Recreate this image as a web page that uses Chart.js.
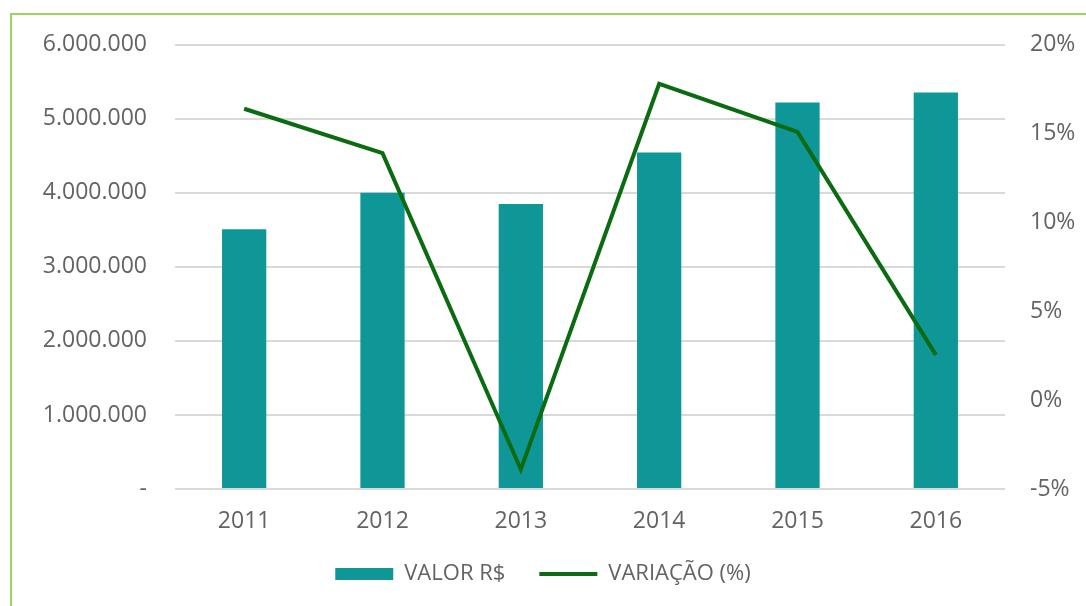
<!DOCTYPE html>
<html>
<head>
<meta charset="utf-8">
<script src="https://cdn.jsdelivr.net/npm/chart.js@4"></script>
<style>
    html, body { margin: 0; padding: 0; background: #fff; overflow: hidden; }
    #frame {
        position: absolute; left: 10px; top: 13px; width: 1100px; height: 620px;
        border-top: 2px solid #9ad45c; border-left: 2px solid #9ad45c;
    }
    #wrap { position: absolute; left: 0; top: 3px; width: 1086px; height: 603px; }
</style>
</head>
<body>
<div id="frame"></div>
<div id="wrap"><canvas id="chart"></canvas></div>
<script>
// Chart data
const years = ['2011', '2012', '2013', '2014', '2015', '2016'];
const valorValues = [3510000, 4000000, 3850000, 4545000, 5220000, 5355000];
const variacaoValues = [16.4, 13.9, -3.9, 17.8, 15.1, 2.55];

const barColor = '#0f9797';
const lineColor = '#0b6b10';
const textColor = '#636363';

function formatValor(value) {
    if (value === 0) return '-';
    return value.toLocaleString('de-DE');
}

const ctx = document.getElementById('chart').getContext('2d');

new Chart(ctx, {
    type: 'bar',
    data: {
        labels: years,
        datasets: [
            {
                label: 'VALOR R$',
                data: valorValues,
                backgroundColor: barColor,
                yAxisID: 'y',
                categoryPercentage: 1.0,
                barPercentage: 0.32,
                order: 2
            },
            {
                type: 'line',
                label: 'VARIAÇÃO (%)',
                data: variacaoValues,
                borderColor: lineColor,
                backgroundColor: lineColor,
                borderWidth: 4,
                pointRadius: 0,
                tension: 0,
                yAxisID: 'y1',
                order: 1
            }
        ]
    },
    options: {
        responsive: true,
        maintainAspectRatio: false,
        animation: false,
        layout: {
            padding: { left: 0, right: 0, top: 36, bottom: 11 }
        },
        scales: {
            x: {
                grid: { display: false },
                border: { display: false },
                ticks: {
                    color: textColor,
                    font: { family: 'Open Sans', size: 23 },
                    padding: 11
                },
                afterFit: function(scale) { scale.height = 40; }
            },
            y: {
                position: 'left',
                min: 0,
                max: 6000000,
                grid: { color: '#d9d9d9', lineWidth: 2, drawTicks: false },
                border: { display: false },
                ticks: {
                    stepSize: 1000000,
                    color: textColor,
                    font: { family: 'Open Sans', size: 23 },
                    padding: 28,
                    callback: function(value) { return formatValor(value); }
                },
                afterFit: function(scale) { scale.width = 175; }
            },
            y1: {
                position: 'right',
                min: -5,
                max: 20,
                grid: { display: false, drawTicks: false },
                border: { display: false },
                ticks: {
                    stepSize: 5,
                    color: textColor,
                    font: { family: 'Open Sans', size: 23 },
                    padding: 25,
                    callback: function(value) { return value + '%'; }
                },
                afterFit: function(scale) { scale.width = 81; }
            }
        },
        plugins: {
            legend: {
                position: 'bottom',
                labels: {
                    color: textColor,
                    font: { family: 'Open Sans', size: 22 },
                    usePointStyle: true,
                    pointStyleWidth: 58,
                    boxHeight: 12,
                    padding: 34,
                    sort: function(a, b) { return a.datasetIndex - b.datasetIndex; },
                    generateLabels: function(chart) {
                        const items = Chart.defaults.plugins.legend.labels.generateLabels(chart);
                        return items.map(function(item) {
                            if (item.datasetIndex === 0) {
                                item.pointStyle = 'rect';
                                item.lineWidth = 0;
                                item.fillStyle = barColor;
                            } else {
                                item.pointStyle = 'line';
                                item.lineWidth = 4;
                                item.strokeStyle = lineColor;
                            }
                            return item;
                        });
                    }
                }
            },
            tooltip: { enabled: false }
        }
    }
});
</script>
</body>
</html>
